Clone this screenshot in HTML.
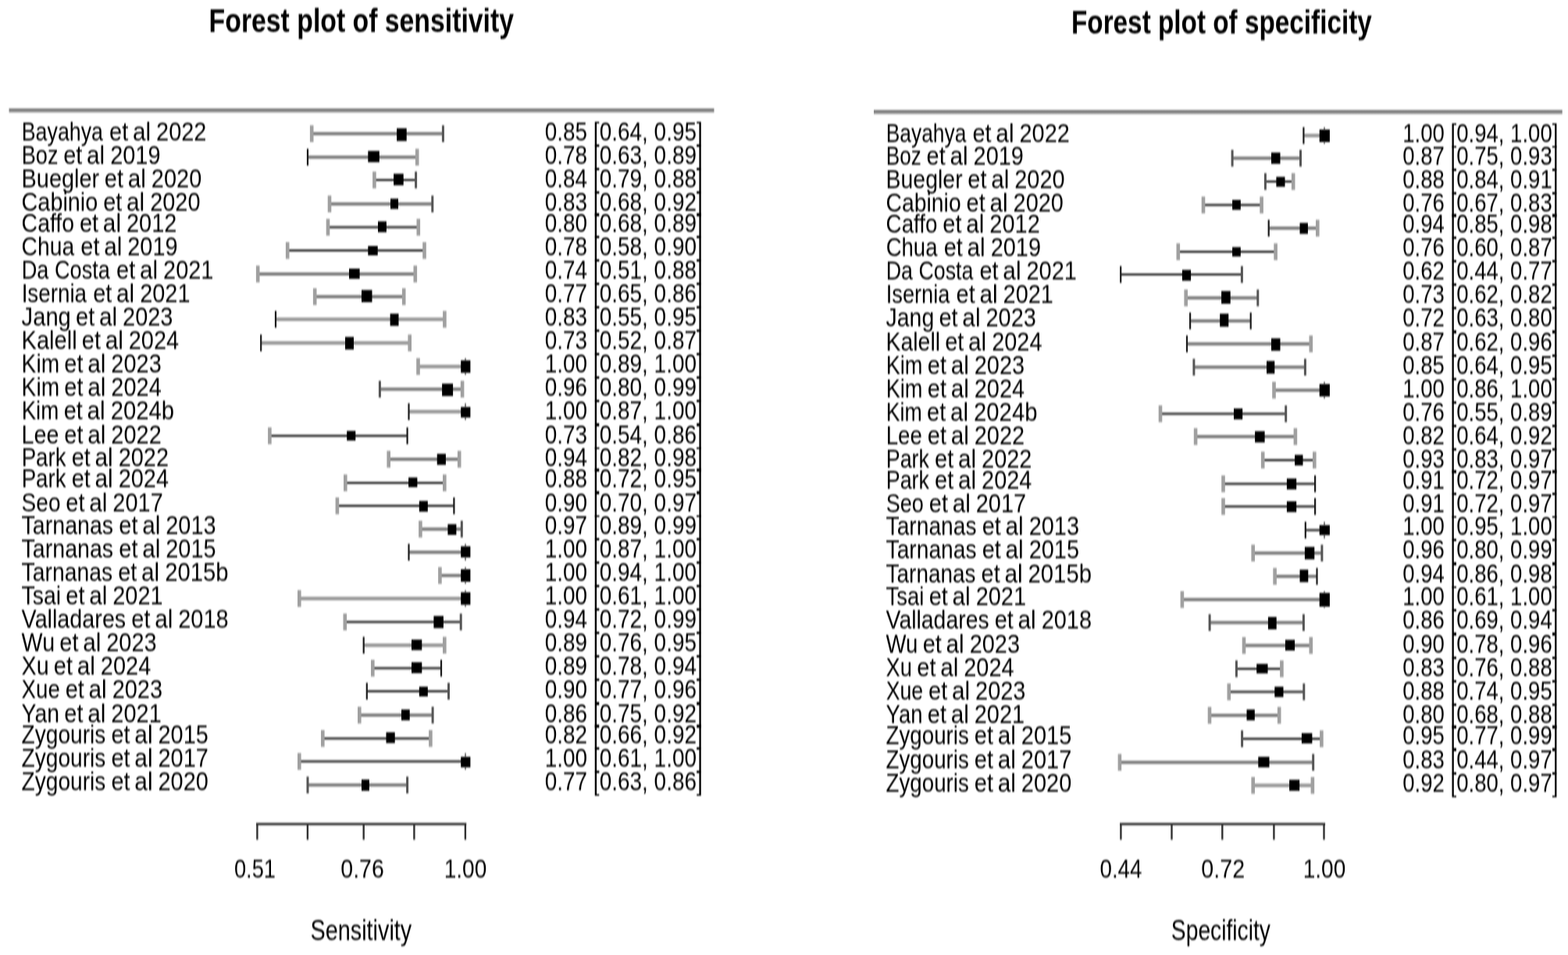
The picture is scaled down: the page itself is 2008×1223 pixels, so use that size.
<!DOCTYPE html>
<html lang="en">
<head>
<meta charset="utf-8">
<title>Forest plots of sensitivity and specificity</title>
<style>
html,body{margin:0;padding:0;background:#fff;}
body{width:2008px;height:1223px;overflow:hidden;}
svg{display:block;font-family:"Liberation Sans", Arial, Helvetica, sans-serif;}
text{fill:#000;}
</style>
</head>
<body>
<svg width="2008" height="1223" viewBox="0 0 2008 1223">
<defs>
<linearGradient id="tl" x1="0" y1="0" x2="0" y2="1"><stop offset="0" stop-color="#747474"/><stop offset="0.45" stop-color="#7c7c7c"/><stop offset="1" stop-color="#b4b4b4"/></linearGradient>
<filter id="soft" x="0" y="0" width="2008" height="1223" filterUnits="userSpaceOnUse"><feGaussianBlur stdDeviation="0.75 0.9"/></filter>
</defs>
<rect width="2008" height="1223" fill="#fff"/>
<g filter="url(#soft)">
<rect x="11.50" y="138.90" width="903.00" height="5.4" fill="url(#tl)"/>
<rect x="399.20" y="169.10" width="168.20" height="4.20" fill="#7e7e7e"/>
<rect x="396.90" y="160.45" width="4.60" height="21.50" fill="#a0a0a0"/>
<rect x="565.90" y="160.45" width="3.00" height="21.50" fill="#555"/>
<rect x="508.10" y="164.30" width="12.60" height="16.30" fill="#000"/>
<text y="180.20" font-size="34"><tspan x="27.72" textLength="104.26" lengthAdjust="spacingAndGlyphs">Bayahya</tspan> <tspan x="140.07" textLength="24.19" lengthAdjust="spacingAndGlyphs">et</tspan> <tspan x="169.93" textLength="23.21" lengthAdjust="spacingAndGlyphs">al</tspan> <tspan x="200.05" textLength="64.40" lengthAdjust="spacingAndGlyphs">2022</tspan></text>
<text transform="translate(697.65 180.20) scale(0.8229 1)" font-size="34">0.85 [0.64, 0.95]</text>
<rect x="394.00" y="199.20" width="140.20" height="4.20" fill="#7e7e7e"/>
<rect x="392.90" y="190.55" width="2.20" height="21.50" fill="#1c1c1c"/>
<rect x="531.90" y="190.55" width="4.60" height="21.50" fill="#a0a0a0"/>
<rect x="471.30" y="193.30" width="14.50" height="14.40" fill="#000"/>
<text y="209.90" font-size="34"><tspan x="27.69" textLength="46.79" lengthAdjust="spacingAndGlyphs">Boz</tspan> <tspan x="81.17" textLength="24.19" lengthAdjust="spacingAndGlyphs">et</tspan> <tspan x="111.03" textLength="23.21" lengthAdjust="spacingAndGlyphs">al</tspan> <tspan x="141.15" textLength="64.40" lengthAdjust="spacingAndGlyphs">2019</tspan></text>
<text transform="translate(697.65 209.90) scale(0.8229 1)" font-size="34">0.78 [0.63, 0.89]</text>
<rect x="479.40" y="229.20" width="53.20" height="2.60" fill="#1c1c1c"/>
<rect x="477.10" y="219.75" width="4.60" height="21.50" fill="#a0a0a0"/>
<rect x="531.10" y="219.75" width="3.00" height="21.50" fill="#555"/>
<rect x="504.10" y="222.50" width="12.60" height="14.80" fill="#000"/>
<text y="240.00" font-size="34"><tspan x="27.54" textLength="99.67" lengthAdjust="spacingAndGlyphs">Buegler</tspan> <tspan x="133.87" textLength="24.19" lengthAdjust="spacingAndGlyphs">et</tspan> <tspan x="163.73" textLength="23.21" lengthAdjust="spacingAndGlyphs">al</tspan> <tspan x="193.85" textLength="64.40" lengthAdjust="spacingAndGlyphs">2020</tspan></text>
<text transform="translate(697.65 240.00) scale(0.8229 1)" font-size="34">0.84 [0.79, 0.88]</text>
<rect x="422.00" y="259.10" width="131.80" height="4.20" fill="#7e7e7e"/>
<rect x="419.70" y="250.45" width="4.60" height="21.50" fill="#a0a0a0"/>
<rect x="552.30" y="250.45" width="3.00" height="21.50" fill="#555"/>
<rect x="500.00" y="254.40" width="10.00" height="13.20" fill="#000"/>
<text y="270.10" font-size="34"><tspan x="27.57" textLength="97.72" lengthAdjust="spacingAndGlyphs">Cabinio</tspan> <tspan x="132.17" textLength="24.19" lengthAdjust="spacingAndGlyphs">et</tspan> <tspan x="162.03" textLength="23.21" lengthAdjust="spacingAndGlyphs">al</tspan> <tspan x="192.15" textLength="64.40" lengthAdjust="spacingAndGlyphs">2020</tspan></text>
<text transform="translate(697.65 270.10) scale(0.8229 1)" font-size="34">0.83 [0.68, 0.92]</text>
<rect x="420.00" y="289.40" width="115.80" height="3.20" fill="#454545"/>
<rect x="417.70" y="280.25" width="4.60" height="21.50" fill="#a0a0a0"/>
<rect x="533.50" y="280.25" width="4.60" height="21.50" fill="#a0a0a0"/>
<rect x="484.00" y="283.50" width="10.90" height="13.90" fill="#000"/>
<text y="297.00" font-size="34"><tspan x="27.59" textLength="67.51" lengthAdjust="spacingAndGlyphs">Caffo</tspan> <tspan x="101.97" textLength="24.19" lengthAdjust="spacingAndGlyphs">et</tspan> <tspan x="131.83" textLength="23.21" lengthAdjust="spacingAndGlyphs">al</tspan> <tspan x="161.95" textLength="64.40" lengthAdjust="spacingAndGlyphs">2012</tspan></text>
<text transform="translate(697.65 297.00) scale(0.8229 1)" font-size="34">0.80 [0.68, 0.89]</text>
<rect x="368.20" y="319.50" width="175.30" height="2.60" fill="#1c1c1c"/>
<rect x="365.90" y="310.05" width="4.60" height="21.50" fill="#a0a0a0"/>
<rect x="541.20" y="310.05" width="4.60" height="21.50" fill="#a0a0a0"/>
<rect x="471.30" y="315.00" width="12.40" height="12.00" fill="#000"/>
<text y="327.00" font-size="34"><tspan x="27.60" textLength="67.55" lengthAdjust="spacingAndGlyphs">Chua</tspan> <tspan x="103.27" textLength="24.19" lengthAdjust="spacingAndGlyphs">et</tspan> <tspan x="133.13" textLength="23.21" lengthAdjust="spacingAndGlyphs">al</tspan> <tspan x="163.25" textLength="64.40" lengthAdjust="spacingAndGlyphs">2019</tspan></text>
<text transform="translate(697.65 327.00) scale(0.8229 1)" font-size="34">0.78 [0.58, 0.90]</text>
<rect x="330.20" y="348.80" width="201.60" height="4.20" fill="#7e7e7e"/>
<rect x="327.90" y="340.15" width="4.60" height="21.50" fill="#a0a0a0"/>
<rect x="529.50" y="340.15" width="4.60" height="21.50" fill="#a0a0a0"/>
<rect x="447.00" y="344.00" width="13.60" height="13.10" fill="#000"/>
<text y="357.00" font-size="34"><tspan x="27.69" textLength="113.28" lengthAdjust="spacingAndGlyphs">Da Costa</tspan> <tspan x="149.07" textLength="24.19" lengthAdjust="spacingAndGlyphs">et</tspan> <tspan x="178.93" textLength="23.21" lengthAdjust="spacingAndGlyphs">al</tspan> <tspan x="209.05" textLength="64.40" lengthAdjust="spacingAndGlyphs">2021</tspan></text>
<text transform="translate(697.65 357.00) scale(0.8229 1)" font-size="34">0.74 [0.51, 0.88]</text>
<rect x="403.20" y="377.80" width="114.00" height="4.20" fill="#7e7e7e"/>
<rect x="400.90" y="369.15" width="4.60" height="21.50" fill="#a0a0a0"/>
<rect x="514.90" y="369.15" width="4.60" height="21.50" fill="#a0a0a0"/>
<rect x="463.00" y="371.40" width="13.50" height="15.60" fill="#000"/>
<text y="387.00" font-size="34"><tspan x="27.64" textLength="83.43" lengthAdjust="spacingAndGlyphs">Isernia</tspan> <tspan x="119.17" textLength="24.19" lengthAdjust="spacingAndGlyphs">et</tspan> <tspan x="149.03" textLength="23.21" lengthAdjust="spacingAndGlyphs">al</tspan> <tspan x="179.15" textLength="64.40" lengthAdjust="spacingAndGlyphs">2021</tspan></text>
<text transform="translate(697.65 387.00) scale(0.8229 1)" font-size="34">0.77 [0.65, 0.86]</text>
<rect x="353.00" y="406.60" width="216.40" height="4.60" fill="#9a9a9a"/>
<rect x="351.90" y="398.15" width="2.20" height="21.50" fill="#1c1c1c"/>
<rect x="567.10" y="398.15" width="4.60" height="21.50" fill="#a0a0a0"/>
<rect x="499.60" y="401.70" width="10.90" height="15.60" fill="#000"/>
<text y="417.00" font-size="34"><tspan x="27.59" textLength="63.27" lengthAdjust="spacingAndGlyphs">Jang</tspan> <tspan x="97.07" textLength="24.19" lengthAdjust="spacingAndGlyphs">et</tspan> <tspan x="126.93" textLength="23.21" lengthAdjust="spacingAndGlyphs">al</tspan> <tspan x="157.05" textLength="64.40" lengthAdjust="spacingAndGlyphs">2023</tspan></text>
<text transform="translate(697.65 417.00) scale(0.8229 1)" font-size="34">0.83 [0.55, 0.95]</text>
<rect x="334.20" y="436.90" width="190.50" height="4.60" fill="#9a9a9a"/>
<rect x="333.10" y="428.45" width="2.20" height="21.50" fill="#1c1c1c"/>
<rect x="522.40" y="428.45" width="4.60" height="21.50" fill="#a0a0a0"/>
<rect x="442.00" y="431.50" width="11.00" height="16.10" fill="#000"/>
<text y="447.20" font-size="34"><tspan x="27.53" textLength="71.16" lengthAdjust="spacingAndGlyphs">Kalell</tspan> <tspan x="104.77" textLength="24.19" lengthAdjust="spacingAndGlyphs">et</tspan> <tspan x="134.63" textLength="23.21" lengthAdjust="spacingAndGlyphs">al</tspan> <tspan x="164.75" textLength="64.40" lengthAdjust="spacingAndGlyphs">2024</tspan></text>
<text transform="translate(697.65 447.20) scale(0.8229 1)" font-size="34">0.73 [0.52, 0.87]</text>
<rect x="535.50" y="467.10" width="60.50" height="4.60" fill="#9a9a9a"/>
<rect x="533.20" y="458.65" width="4.60" height="21.50" fill="#a0a0a0"/>
<rect x="595.20" y="458.65" width="1.60" height="21.50" fill="#666"/>
<rect x="590.20" y="461.50" width="12.20" height="15.90" fill="#000"/>
<text y="477.30" font-size="34"><tspan x="27.60" textLength="48.52" lengthAdjust="spacingAndGlyphs">Kim</tspan> <tspan x="82.37" textLength="24.19" lengthAdjust="spacingAndGlyphs">et</tspan> <tspan x="112.23" textLength="23.21" lengthAdjust="spacingAndGlyphs">al</tspan> <tspan x="142.35" textLength="64.40" lengthAdjust="spacingAndGlyphs">2023</tspan></text>
<text transform="translate(697.65 477.30) scale(0.8229 1)" font-size="34">1.00 [0.89, 1.00]</text>
<rect x="486.40" y="496.30" width="105.70" height="4.20" fill="#7e7e7e"/>
<rect x="484.90" y="487.65" width="3.00" height="21.50" fill="#555"/>
<rect x="589.80" y="487.65" width="4.60" height="21.50" fill="#a0a0a0"/>
<rect x="566.10" y="491.30" width="14.00" height="15.90" fill="#000"/>
<text y="507.30" font-size="34"><tspan x="27.60" textLength="48.52" lengthAdjust="spacingAndGlyphs">Kim</tspan> <tspan x="82.37" textLength="24.19" lengthAdjust="spacingAndGlyphs">et</tspan> <tspan x="112.23" textLength="23.21" lengthAdjust="spacingAndGlyphs">al</tspan> <tspan x="142.35" textLength="64.40" lengthAdjust="spacingAndGlyphs">2024</tspan></text>
<text transform="translate(697.65 507.30) scale(0.8229 1)" font-size="34">0.96 [0.80, 0.99]</text>
<rect x="523.50" y="524.90" width="72.50" height="4.60" fill="#9a9a9a"/>
<rect x="522.40" y="516.45" width="2.20" height="21.50" fill="#1c1c1c"/>
<rect x="595.20" y="516.45" width="1.60" height="21.50" fill="#666"/>
<rect x="590.20" y="521.20" width="12.20" height="13.50" fill="#000"/>
<text y="537.40" font-size="34"><tspan x="27.64" textLength="47.75" lengthAdjust="spacingAndGlyphs">Kim</tspan> <tspan x="81.67" textLength="24.19" lengthAdjust="spacingAndGlyphs">et</tspan> <tspan x="111.53" textLength="23.21" lengthAdjust="spacingAndGlyphs">al</tspan> <tspan x="141.63" textLength="81.50" lengthAdjust="spacingAndGlyphs">2024b</tspan></text>
<text transform="translate(697.65 537.40) scale(0.8229 1)" font-size="34">1.00 [0.87, 1.00]</text>
<rect x="345.40" y="556.80" width="176.20" height="2.60" fill="#1c1c1c"/>
<rect x="343.10" y="547.35" width="4.60" height="21.50" fill="#a0a0a0"/>
<rect x="520.50" y="547.35" width="2.20" height="21.50" fill="#1c1c1c"/>
<rect x="444.20" y="551.80" width="11.10" height="12.40" fill="#000"/>
<text y="567.50" font-size="34"><tspan x="27.55" textLength="48.00" lengthAdjust="spacingAndGlyphs">Lee</tspan> <tspan x="82.37" textLength="24.19" lengthAdjust="spacingAndGlyphs">et</tspan> <tspan x="112.23" textLength="23.21" lengthAdjust="spacingAndGlyphs">al</tspan> <tspan x="142.35" textLength="64.40" lengthAdjust="spacingAndGlyphs">2022</tspan></text>
<text transform="translate(697.65 567.50) scale(0.8229 1)" font-size="34">0.73 [0.54, 0.86]</text>
<rect x="497.70" y="586.00" width="90.50" height="4.20" fill="#7e7e7e"/>
<rect x="495.40" y="577.35" width="4.60" height="21.50" fill="#a0a0a0"/>
<rect x="585.90" y="577.35" width="4.60" height="21.50" fill="#a0a0a0"/>
<rect x="559.70" y="581.20" width="11.20" height="14.10" fill="#000"/>
<text y="597.30" font-size="34"><tspan x="27.64" textLength="56.99" lengthAdjust="spacingAndGlyphs">Park</tspan> <tspan x="91.67" textLength="24.19" lengthAdjust="spacingAndGlyphs">et</tspan> <tspan x="121.53" textLength="23.21" lengthAdjust="spacingAndGlyphs">al</tspan> <tspan x="151.65" textLength="64.40" lengthAdjust="spacingAndGlyphs">2022</tspan></text>
<text transform="translate(697.65 597.30) scale(0.8229 1)" font-size="34">0.94 [0.82, 0.98]</text>
<rect x="442.30" y="617.10" width="127.00" height="2.60" fill="#1c1c1c"/>
<rect x="440.00" y="607.65" width="4.60" height="21.50" fill="#a0a0a0"/>
<rect x="567.00" y="607.65" width="4.60" height="21.50" fill="#a0a0a0"/>
<rect x="523.10" y="611.50" width="11.30" height="12.40" fill="#000"/>
<text y="624.30" font-size="34"><tspan x="27.64" textLength="56.99" lengthAdjust="spacingAndGlyphs">Park</tspan> <tspan x="91.67" textLength="24.19" lengthAdjust="spacingAndGlyphs">et</tspan> <tspan x="121.53" textLength="23.21" lengthAdjust="spacingAndGlyphs">al</tspan> <tspan x="151.65" textLength="64.40" lengthAdjust="spacingAndGlyphs">2024</tspan></text>
<text transform="translate(697.65 624.30) scale(0.8229 1)" font-size="34">0.88 [0.72, 0.95]</text>
<rect x="431.90" y="646.50" width="149.50" height="2.60" fill="#1c1c1c"/>
<rect x="429.60" y="637.05" width="4.60" height="21.50" fill="#a0a0a0"/>
<rect x="580.30" y="637.05" width="2.20" height="21.50" fill="#1c1c1c"/>
<rect x="536.80" y="641.50" width="11.00" height="13.80" fill="#000"/>
<text y="654.50" font-size="34"><tspan x="27.61" textLength="49.86" lengthAdjust="spacingAndGlyphs">Seo</tspan> <tspan x="84.37" textLength="24.19" lengthAdjust="spacingAndGlyphs">et</tspan> <tspan x="114.23" textLength="23.21" lengthAdjust="spacingAndGlyphs">al</tspan> <tspan x="144.35" textLength="64.40" lengthAdjust="spacingAndGlyphs">2017</tspan></text>
<text transform="translate(697.65 654.50) scale(0.8229 1)" font-size="34">0.90 [0.70, 0.97]</text>
<rect x="538.40" y="675.50" width="52.90" height="4.20" fill="#7e7e7e"/>
<rect x="536.10" y="666.85" width="4.60" height="21.50" fill="#a0a0a0"/>
<rect x="589.80" y="666.85" width="3.00" height="21.50" fill="#555"/>
<rect x="573.40" y="671.30" width="11.00" height="13.70" fill="#000"/>
<text y="684.00" font-size="34"><tspan x="27.59" textLength="117.58" lengthAdjust="spacingAndGlyphs">Tarnanas</tspan> <tspan x="152.27" textLength="24.19" lengthAdjust="spacingAndGlyphs">et</tspan> <tspan x="182.13" textLength="23.21" lengthAdjust="spacingAndGlyphs">al</tspan> <tspan x="212.25" textLength="64.40" lengthAdjust="spacingAndGlyphs">2013</tspan></text>
<text transform="translate(697.65 684.00) scale(0.8229 1)" font-size="34">0.97 [0.89, 0.99]</text>
<rect x="523.50" y="705.10" width="72.50" height="4.20" fill="#7e7e7e"/>
<rect x="522.40" y="696.45" width="2.20" height="21.50" fill="#1c1c1c"/>
<rect x="595.20" y="696.45" width="1.60" height="21.50" fill="#666"/>
<rect x="590.20" y="699.60" width="12.20" height="14.30" fill="#000"/>
<text y="714.10" font-size="34"><tspan x="27.59" textLength="117.58" lengthAdjust="spacingAndGlyphs">Tarnanas</tspan> <tspan x="152.27" textLength="24.19" lengthAdjust="spacingAndGlyphs">et</tspan> <tspan x="182.13" textLength="23.21" lengthAdjust="spacingAndGlyphs">al</tspan> <tspan x="212.25" textLength="64.40" lengthAdjust="spacingAndGlyphs">2015</tspan></text>
<text transform="translate(697.65 714.10) scale(0.8229 1)" font-size="34">1.00 [0.87, 1.00]</text>
<rect x="563.40" y="734.90" width="32.60" height="4.20" fill="#7e7e7e"/>
<rect x="561.10" y="726.25" width="4.60" height="21.50" fill="#a0a0a0"/>
<rect x="595.20" y="726.25" width="1.60" height="21.50" fill="#666"/>
<rect x="590.20" y="729.00" width="12.20" height="16.00" fill="#000"/>
<text y="744.20" font-size="34"><tspan x="27.60" textLength="116.46" lengthAdjust="spacingAndGlyphs">Tarnanas</tspan> <tspan x="151.17" textLength="24.19" lengthAdjust="spacingAndGlyphs">et</tspan> <tspan x="181.03" textLength="23.21" lengthAdjust="spacingAndGlyphs">al</tspan> <tspan x="211.13" textLength="81.50" lengthAdjust="spacingAndGlyphs">2015b</tspan></text>
<text transform="translate(697.65 744.20) scale(0.8229 1)" font-size="34">1.00 [0.94, 1.00]</text>
<rect x="383.30" y="764.20" width="212.70" height="4.60" fill="#9a9a9a"/>
<rect x="381.00" y="755.75" width="4.60" height="21.50" fill="#a0a0a0"/>
<rect x="595.20" y="755.75" width="1.60" height="21.50" fill="#666"/>
<rect x="590.20" y="758.50" width="12.20" height="16.00" fill="#000"/>
<text y="774.10" font-size="34"><tspan x="27.60" textLength="50.55" lengthAdjust="spacingAndGlyphs">Tsai</tspan> <tspan x="84.27" textLength="24.19" lengthAdjust="spacingAndGlyphs">et</tspan> <tspan x="114.13" textLength="23.21" lengthAdjust="spacingAndGlyphs">al</tspan> <tspan x="144.25" textLength="64.40" lengthAdjust="spacingAndGlyphs">2021</tspan></text>
<text transform="translate(697.65 774.10) scale(0.8229 1)" font-size="34">1.00 [0.61, 1.00]</text>
<rect x="441.80" y="794.90" width="148.40" height="3.20" fill="#454545"/>
<rect x="439.50" y="785.75" width="4.60" height="21.50" fill="#a0a0a0"/>
<rect x="588.70" y="785.75" width="3.00" height="21.50" fill="#555"/>
<rect x="555.40" y="788.80" width="12.50" height="15.60" fill="#000"/>
<text y="803.80" font-size="34"><tspan x="27.60" textLength="133.64" lengthAdjust="spacingAndGlyphs">Valladares</tspan> <tspan x="168.27" textLength="24.19" lengthAdjust="spacingAndGlyphs">et</tspan> <tspan x="198.13" textLength="23.21" lengthAdjust="spacingAndGlyphs">al</tspan> <tspan x="228.25" textLength="64.40" lengthAdjust="spacingAndGlyphs">2018</tspan></text>
<text transform="translate(697.65 803.80) scale(0.8229 1)" font-size="34">0.94 [0.72, 0.99]</text>
<rect x="465.70" y="824.00" width="103.60" height="4.60" fill="#9a9a9a"/>
<rect x="464.60" y="815.55" width="2.20" height="21.50" fill="#1c1c1c"/>
<rect x="567.00" y="815.55" width="4.60" height="21.50" fill="#a0a0a0"/>
<rect x="527.00" y="819.10" width="13.30" height="13.50" fill="#000"/>
<text y="834.20" font-size="34"><tspan x="27.60" textLength="42.52" lengthAdjust="spacingAndGlyphs">Wu</tspan> <tspan x="76.27" textLength="24.19" lengthAdjust="spacingAndGlyphs">et</tspan> <tspan x="106.13" textLength="23.21" lengthAdjust="spacingAndGlyphs">al</tspan> <tspan x="136.25" textLength="64.40" lengthAdjust="spacingAndGlyphs">2023</tspan></text>
<text transform="translate(697.65 834.20) scale(0.8229 1)" font-size="34">0.89 [0.76, 0.95]</text>
<rect x="477.30" y="854.10" width="87.70" height="3.20" fill="#454545"/>
<rect x="475.00" y="844.95" width="4.60" height="21.50" fill="#a0a0a0"/>
<rect x="563.90" y="844.95" width="2.20" height="21.50" fill="#1c1c1c"/>
<rect x="527.00" y="848.10" width="13.30" height="14.00" fill="#000"/>
<text y="864.20" font-size="34"><tspan x="27.59" textLength="35.09" lengthAdjust="spacingAndGlyphs">Xu</tspan> <tspan x="68.87" textLength="24.19" lengthAdjust="spacingAndGlyphs">et</tspan> <tspan x="98.73" textLength="23.21" lengthAdjust="spacingAndGlyphs">al</tspan> <tspan x="128.85" textLength="64.40" lengthAdjust="spacingAndGlyphs">2024</tspan></text>
<text transform="translate(697.65 864.20) scale(0.8229 1)" font-size="34">0.89 [0.78, 0.94]</text>
<rect x="469.80" y="883.90" width="104.70" height="2.60" fill="#1c1c1c"/>
<rect x="468.70" y="874.45" width="2.20" height="21.50" fill="#1c1c1c"/>
<rect x="573.00" y="874.45" width="3.00" height="21.50" fill="#555"/>
<rect x="536.80" y="879.40" width="11.00" height="12.50" fill="#000"/>
<text y="894.30" font-size="34"><tspan x="27.61" textLength="49.21" lengthAdjust="spacingAndGlyphs">Xue</tspan> <tspan x="83.67" textLength="24.19" lengthAdjust="spacingAndGlyphs">et</tspan> <tspan x="113.53" textLength="23.21" lengthAdjust="spacingAndGlyphs">al</tspan> <tspan x="143.65" textLength="64.40" lengthAdjust="spacingAndGlyphs">2023</tspan></text>
<text transform="translate(697.65 894.30) scale(0.8229 1)" font-size="34">0.90 [0.77, 0.96]</text>
<rect x="460.30" y="913.70" width="93.80" height="4.20" fill="#7e7e7e"/>
<rect x="458.00" y="905.05" width="4.60" height="21.50" fill="#a0a0a0"/>
<rect x="552.60" y="905.05" width="3.00" height="21.50" fill="#555"/>
<rect x="514.00" y="908.60" width="10.70" height="13.90" fill="#000"/>
<text y="924.60" font-size="34"><tspan x="27.60" textLength="48.49" lengthAdjust="spacingAndGlyphs">Yan</tspan> <tspan x="82.37" textLength="24.19" lengthAdjust="spacingAndGlyphs">et</tspan> <tspan x="112.23" textLength="23.21" lengthAdjust="spacingAndGlyphs">al</tspan> <tspan x="142.35" textLength="64.40" lengthAdjust="spacingAndGlyphs">2021</tspan></text>
<text transform="translate(697.65 924.60) scale(0.8229 1)" font-size="34">0.86 [0.75, 0.92]</text>
<rect x="413.30" y="944.10" width="138.10" height="3.20" fill="#454545"/>
<rect x="411.00" y="934.95" width="4.60" height="21.50" fill="#a0a0a0"/>
<rect x="549.10" y="934.95" width="4.60" height="21.50" fill="#a0a0a0"/>
<rect x="494.50" y="937.80" width="11.20" height="13.80" fill="#000"/>
<text y="951.60" font-size="34"><tspan x="27.60" textLength="107.77" lengthAdjust="spacingAndGlyphs">Zygouris</tspan> <tspan x="142.47" textLength="24.19" lengthAdjust="spacingAndGlyphs">et</tspan> <tspan x="172.33" textLength="23.21" lengthAdjust="spacingAndGlyphs">al</tspan> <tspan x="202.45" textLength="64.40" lengthAdjust="spacingAndGlyphs">2015</tspan></text>
<text transform="translate(697.65 951.60) scale(0.8229 1)" font-size="34">0.82 [0.66, 0.92]</text>
<rect x="383.30" y="973.50" width="212.70" height="3.20" fill="#454545"/>
<rect x="381.00" y="964.35" width="4.60" height="21.50" fill="#a0a0a0"/>
<rect x="595.20" y="964.35" width="1.60" height="21.50" fill="#666"/>
<rect x="590.20" y="969.20" width="12.20" height="13.50" fill="#000"/>
<text y="982.30" font-size="34"><tspan x="27.60" textLength="107.77" lengthAdjust="spacingAndGlyphs">Zygouris</tspan> <tspan x="142.47" textLength="24.19" lengthAdjust="spacingAndGlyphs">et</tspan> <tspan x="172.33" textLength="23.21" lengthAdjust="spacingAndGlyphs">al</tspan> <tspan x="202.45" textLength="64.40" lengthAdjust="spacingAndGlyphs">2017</tspan></text>
<text transform="translate(697.65 982.30) scale(0.8229 1)" font-size="34">1.00 [0.61, 1.00]</text>
<rect x="394.00" y="1003.20" width="127.60" height="4.20" fill="#7e7e7e"/>
<rect x="392.50" y="994.55" width="3.00" height="21.50" fill="#555"/>
<rect x="520.10" y="994.55" width="3.00" height="21.50" fill="#555"/>
<rect x="463.00" y="998.30" width="9.90" height="14.40" fill="#000"/>
<text y="1012.20" font-size="34"><tspan x="27.60" textLength="107.77" lengthAdjust="spacingAndGlyphs">Zygouris</tspan> <tspan x="142.47" textLength="24.19" lengthAdjust="spacingAndGlyphs">et</tspan> <tspan x="172.33" textLength="23.21" lengthAdjust="spacingAndGlyphs">al</tspan> <tspan x="202.45" textLength="64.40" lengthAdjust="spacingAndGlyphs">2020</tspan></text>
<text transform="translate(697.65 1012.20) scale(0.8229 1)" font-size="34">0.77 [0.63, 0.86]</text>
<rect x="328.00" y="1053.90" width="269.20" height="2.80" fill="#222"/>
<rect x="328.20" y="1053.90" width="2.40" height="21.50" fill="#333"/>
<rect x="392.70" y="1053.90" width="2.40" height="21.50" fill="#333"/>
<rect x="464.50" y="1053.90" width="2.40" height="21.50" fill="#333"/>
<rect x="529.20" y="1053.90" width="2.40" height="21.50" fill="#333"/>
<rect x="594.70" y="1053.90" width="2.40" height="21.50" fill="#333"/>
<text transform="translate(299.88 1123.60) scale(0.8033 1)" font-size="34">0.51</text>
<text transform="translate(436.33 1123.60) scale(0.8390 1)" font-size="34">0.76</text>
<text transform="translate(568.70 1123.60) scale(0.8250 1)" font-size="34">1.00</text>
<text transform="translate(267.62 41.30) scale(0.7859 1)" font-size="43" font-weight="bold">Forest plot of sensitivity</text>
<text transform="translate(397.50 1203.60) scale(0.7902 1)" font-size="36.5" fill="#2a2a2a">Sensitivity</text>
<rect x="1119.00" y="140.90" width="881.70" height="5.4" fill="url(#tl)"/>
<rect x="1669.40" y="171.30" width="26.60" height="4.60" fill="#9a9a9a"/>
<rect x="1668.30" y="162.85" width="2.20" height="21.50" fill="#1c1c1c"/>
<rect x="1695.20" y="162.85" width="1.60" height="21.50" fill="#666"/>
<rect x="1689.70" y="165.90" width="13.20" height="16.00" fill="#000"/>
<text y="181.50" font-size="34"><tspan x="1134.75" textLength="102.63" lengthAdjust="spacingAndGlyphs">Bayahya</tspan> <tspan x="1245.47" textLength="24.19" lengthAdjust="spacingAndGlyphs">et</tspan> <tspan x="1275.33" textLength="23.21" lengthAdjust="spacingAndGlyphs">al</tspan> <tspan x="1305.45" textLength="64.40" lengthAdjust="spacingAndGlyphs">2022</tspan></text>
<text transform="translate(1796.17 181.50) scale(0.8113 1)" font-size="34">1.00 [0.94, 1.00]</text>
<rect x="1578.10" y="200.50" width="87.40" height="4.20" fill="#7e7e7e"/>
<rect x="1576.60" y="191.85" width="3.00" height="21.50" fill="#555"/>
<rect x="1664.00" y="191.85" width="3.00" height="21.50" fill="#555"/>
<rect x="1628.00" y="195.40" width="11.50" height="14.40" fill="#000"/>
<text y="211.20" font-size="34"><tspan x="1134.77" textLength="45.05" lengthAdjust="spacingAndGlyphs">Boz</tspan> <tspan x="1186.57" textLength="24.19" lengthAdjust="spacingAndGlyphs">et</tspan> <tspan x="1216.43" textLength="23.21" lengthAdjust="spacingAndGlyphs">al</tspan> <tspan x="1246.55" textLength="64.40" lengthAdjust="spacingAndGlyphs">2019</tspan></text>
<text transform="translate(1796.17 211.20) scale(0.8113 1)" font-size="34">0.87 [0.75, 0.93]</text>
<rect x="1620.40" y="231.20" width="35.80" height="2.60" fill="#1c1c1c"/>
<rect x="1618.90" y="221.75" width="3.00" height="21.50" fill="#555"/>
<rect x="1653.90" y="221.75" width="4.60" height="21.50" fill="#a0a0a0"/>
<rect x="1634.40" y="226.50" width="11.10" height="12.70" fill="#000"/>
<text y="241.30" font-size="34"><tspan x="1134.58" textLength="98.03" lengthAdjust="spacingAndGlyphs">Buegler</tspan> <tspan x="1239.27" textLength="24.19" lengthAdjust="spacingAndGlyphs">et</tspan> <tspan x="1269.13" textLength="23.21" lengthAdjust="spacingAndGlyphs">al</tspan> <tspan x="1299.25" textLength="64.40" lengthAdjust="spacingAndGlyphs">2020</tspan></text>
<text transform="translate(1796.17 241.30) scale(0.8113 1)" font-size="34">0.88 [0.84, 0.91]</text>
<rect x="1541.00" y="260.90" width="74.60" height="3.20" fill="#454545"/>
<rect x="1538.70" y="251.75" width="4.60" height="21.50" fill="#a0a0a0"/>
<rect x="1613.30" y="251.75" width="4.60" height="21.50" fill="#a0a0a0"/>
<rect x="1578.10" y="256.00" width="10.70" height="12.70" fill="#000"/>
<text y="271.40" font-size="34"><tspan x="1134.59" textLength="96.07" lengthAdjust="spacingAndGlyphs">Cabinio</tspan> <tspan x="1237.57" textLength="24.19" lengthAdjust="spacingAndGlyphs">et</tspan> <tspan x="1267.43" textLength="23.21" lengthAdjust="spacingAndGlyphs">al</tspan> <tspan x="1297.55" textLength="64.40" lengthAdjust="spacingAndGlyphs">2020</tspan></text>
<text transform="translate(1796.17 271.40) scale(0.8113 1)" font-size="34">0.76 [0.67, 0.83]</text>
<rect x="1624.70" y="290.10" width="62.60" height="4.20" fill="#7e7e7e"/>
<rect x="1623.60" y="281.45" width="2.20" height="21.50" fill="#1c1c1c"/>
<rect x="1685.00" y="281.45" width="4.60" height="21.50" fill="#a0a0a0"/>
<rect x="1664.50" y="285.50" width="10.40" height="14.00" fill="#000"/>
<text y="298.30" font-size="34"><tspan x="1134.62" textLength="65.85" lengthAdjust="spacingAndGlyphs">Caffo</tspan> <tspan x="1207.37" textLength="24.19" lengthAdjust="spacingAndGlyphs">et</tspan> <tspan x="1237.23" textLength="23.21" lengthAdjust="spacingAndGlyphs">al</tspan> <tspan x="1267.35" textLength="64.40" lengthAdjust="spacingAndGlyphs">2012</tspan></text>
<text transform="translate(1796.17 298.30) scale(0.8113 1)" font-size="34">0.94 [0.85, 0.98]</text>
<rect x="1508.80" y="321.10" width="124.80" height="2.60" fill="#1c1c1c"/>
<rect x="1506.50" y="311.65" width="4.60" height="21.50" fill="#a0a0a0"/>
<rect x="1631.30" y="311.65" width="4.60" height="21.50" fill="#a0a0a0"/>
<rect x="1578.10" y="316.50" width="10.70" height="12.00" fill="#000"/>
<text y="328.30" font-size="34"><tspan x="1134.63" textLength="65.92" lengthAdjust="spacingAndGlyphs">Chua</tspan> <tspan x="1208.67" textLength="24.19" lengthAdjust="spacingAndGlyphs">et</tspan> <tspan x="1238.53" textLength="23.21" lengthAdjust="spacingAndGlyphs">al</tspan> <tspan x="1268.65" textLength="64.40" lengthAdjust="spacingAndGlyphs">2019</tspan></text>
<text transform="translate(1796.17 328.30) scale(0.8113 1)" font-size="34">0.76 [0.60, 0.87]</text>
<rect x="1435.20" y="350.20" width="155.20" height="2.60" fill="#1c1c1c"/>
<rect x="1434.10" y="340.75" width="2.20" height="21.50" fill="#1c1c1c"/>
<rect x="1588.90" y="340.75" width="3.00" height="21.50" fill="#555"/>
<rect x="1513.90" y="345.60" width="11.20" height="13.90" fill="#000"/>
<text y="358.30" font-size="34"><tspan x="1134.72" textLength="111.64" lengthAdjust="spacingAndGlyphs">Da Costa</tspan> <tspan x="1254.47" textLength="24.19" lengthAdjust="spacingAndGlyphs">et</tspan> <tspan x="1284.33" textLength="23.21" lengthAdjust="spacingAndGlyphs">al</tspan> <tspan x="1314.45" textLength="64.40" lengthAdjust="spacingAndGlyphs">2021</tspan></text>
<text transform="translate(1796.17 358.30) scale(0.8113 1)" font-size="34">0.62 [0.44, 0.77]</text>
<rect x="1518.70" y="379.40" width="92.10" height="4.20" fill="#7e7e7e"/>
<rect x="1516.40" y="370.75" width="4.60" height="21.50" fill="#a0a0a0"/>
<rect x="1609.30" y="370.75" width="3.00" height="21.50" fill="#555"/>
<rect x="1564.10" y="372.70" width="11.60" height="16.30" fill="#000"/>
<text y="388.30" font-size="34"><tspan x="1134.69" textLength="81.78" lengthAdjust="spacingAndGlyphs">Isernia</tspan> <tspan x="1224.57" textLength="24.19" lengthAdjust="spacingAndGlyphs">et</tspan> <tspan x="1254.43" textLength="23.21" lengthAdjust="spacingAndGlyphs">al</tspan> <tspan x="1284.55" textLength="64.40" lengthAdjust="spacingAndGlyphs">2021</tspan></text>
<text transform="translate(1796.17 388.30) scale(0.8113 1)" font-size="34">0.73 [0.62, 0.82]</text>
<rect x="1524.10" y="408.90" width="77.60" height="4.20" fill="#7e7e7e"/>
<rect x="1523.00" y="400.25" width="2.20" height="21.50" fill="#1c1c1c"/>
<rect x="1600.60" y="400.25" width="2.20" height="21.50" fill="#1c1c1c"/>
<rect x="1562.20" y="401.70" width="11.10" height="16.70" fill="#000"/>
<text y="418.30" font-size="34"><tspan x="1134.60" textLength="61.61" lengthAdjust="spacingAndGlyphs">Jang</tspan> <tspan x="1202.47" textLength="24.19" lengthAdjust="spacingAndGlyphs">et</tspan> <tspan x="1232.33" textLength="23.21" lengthAdjust="spacingAndGlyphs">al</tspan> <tspan x="1262.45" textLength="64.40" lengthAdjust="spacingAndGlyphs">2023</tspan></text>
<text transform="translate(1796.17 418.30) scale(0.8113 1)" font-size="34">0.72 [0.63, 0.80]</text>
<rect x="1520.00" y="438.30" width="158.80" height="4.20" fill="#7e7e7e"/>
<rect x="1518.90" y="429.65" width="2.20" height="21.50" fill="#1c1c1c"/>
<rect x="1676.50" y="429.65" width="4.60" height="21.50" fill="#a0a0a0"/>
<rect x="1628.00" y="433.30" width="11.50" height="15.90" fill="#000"/>
<text y="448.50" font-size="34"><tspan x="1134.59" textLength="69.46" lengthAdjust="spacingAndGlyphs">Kalell</tspan> <tspan x="1210.17" textLength="24.19" lengthAdjust="spacingAndGlyphs">et</tspan> <tspan x="1240.03" textLength="23.21" lengthAdjust="spacingAndGlyphs">al</tspan> <tspan x="1270.15" textLength="64.40" lengthAdjust="spacingAndGlyphs">2024</tspan></text>
<text transform="translate(1796.17 448.50) scale(0.8113 1)" font-size="34">0.87 [0.62, 0.96]</text>
<rect x="1528.90" y="468.10" width="142.50" height="4.20" fill="#7e7e7e"/>
<rect x="1527.40" y="459.45" width="3.00" height="21.50" fill="#555"/>
<rect x="1669.90" y="459.45" width="3.00" height="21.50" fill="#555"/>
<rect x="1622.00" y="462.30" width="10.30" height="16.20" fill="#000"/>
<text y="478.60" font-size="34"><tspan x="1134.69" textLength="46.77" lengthAdjust="spacingAndGlyphs">Kim</tspan> <tspan x="1187.77" textLength="24.19" lengthAdjust="spacingAndGlyphs">et</tspan> <tspan x="1217.63" textLength="23.21" lengthAdjust="spacingAndGlyphs">al</tspan> <tspan x="1247.75" textLength="64.40" lengthAdjust="spacingAndGlyphs">2023</tspan></text>
<text transform="translate(1796.17 478.60) scale(0.8113 1)" font-size="34">0.85 [0.64, 0.95]</text>
<rect x="1631.50" y="497.60" width="64.50" height="4.20" fill="#7e7e7e"/>
<rect x="1629.20" y="488.95" width="4.60" height="21.50" fill="#a0a0a0"/>
<rect x="1695.20" y="488.95" width="1.60" height="21.50" fill="#666"/>
<rect x="1689.70" y="491.80" width="13.20" height="15.90" fill="#000"/>
<text y="508.60" font-size="34"><tspan x="1134.69" textLength="46.77" lengthAdjust="spacingAndGlyphs">Kim</tspan> <tspan x="1187.77" textLength="24.19" lengthAdjust="spacingAndGlyphs">et</tspan> <tspan x="1217.63" textLength="23.21" lengthAdjust="spacingAndGlyphs">al</tspan> <tspan x="1247.75" textLength="64.40" lengthAdjust="spacingAndGlyphs">2024</tspan></text>
<text transform="translate(1796.17 508.60) scale(0.8113 1)" font-size="34">1.00 [0.86, 1.00]</text>
<rect x="1486.00" y="528.30" width="160.70" height="3.20" fill="#454545"/>
<rect x="1483.70" y="519.15" width="4.60" height="21.50" fill="#a0a0a0"/>
<rect x="1645.20" y="519.15" width="3.00" height="21.50" fill="#555"/>
<rect x="1580.00" y="523.10" width="11.20" height="14.00" fill="#000"/>
<text y="538.70" font-size="34"><tspan x="1134.72" textLength="46.00" lengthAdjust="spacingAndGlyphs">Kim</tspan> <tspan x="1187.07" textLength="24.19" lengthAdjust="spacingAndGlyphs">et</tspan> <tspan x="1216.93" textLength="23.21" lengthAdjust="spacingAndGlyphs">al</tspan> <tspan x="1247.03" textLength="81.50" lengthAdjust="spacingAndGlyphs">2024b</tspan></text>
<text transform="translate(1796.17 538.70) scale(0.8113 1)" font-size="34">0.76 [0.55, 0.89]</text>
<rect x="1531.10" y="557.00" width="127.80" height="4.20" fill="#7e7e7e"/>
<rect x="1528.80" y="548.35" width="4.60" height="21.50" fill="#a0a0a0"/>
<rect x="1656.60" y="548.35" width="4.60" height="21.50" fill="#a0a0a0"/>
<rect x="1607.10" y="552.20" width="12.50" height="14.40" fill="#000"/>
<text y="568.80" font-size="34"><tspan x="1134.64" textLength="46.27" lengthAdjust="spacingAndGlyphs">Lee</tspan> <tspan x="1187.77" textLength="24.19" lengthAdjust="spacingAndGlyphs">et</tspan> <tspan x="1217.63" textLength="23.21" lengthAdjust="spacingAndGlyphs">al</tspan> <tspan x="1247.75" textLength="64.40" lengthAdjust="spacingAndGlyphs">2022</tspan></text>
<text transform="translate(1796.17 568.80) scale(0.8113 1)" font-size="34">0.82 [0.64, 0.92]</text>
<rect x="1617.20" y="587.90" width="66.10" height="2.60" fill="#1c1c1c"/>
<rect x="1614.90" y="578.45" width="4.60" height="21.50" fill="#a0a0a0"/>
<rect x="1681.00" y="578.45" width="4.60" height="21.50" fill="#a0a0a0"/>
<rect x="1658.10" y="582.50" width="10.40" height="13.60" fill="#000"/>
<text y="598.60" font-size="34"><tspan x="1134.71" textLength="55.32" lengthAdjust="spacingAndGlyphs">Park</tspan> <tspan x="1197.07" textLength="24.19" lengthAdjust="spacingAndGlyphs">et</tspan> <tspan x="1226.93" textLength="23.21" lengthAdjust="spacingAndGlyphs">al</tspan> <tspan x="1257.05" textLength="64.40" lengthAdjust="spacingAndGlyphs">2022</tspan></text>
<text transform="translate(1796.17 598.60) scale(0.8113 1)" font-size="34">0.93 [0.83, 0.97]</text>
<rect x="1566.50" y="618.00" width="117.60" height="3.20" fill="#454545"/>
<rect x="1564.20" y="608.85" width="4.60" height="21.50" fill="#a0a0a0"/>
<rect x="1683.00" y="608.85" width="2.20" height="21.50" fill="#1c1c1c"/>
<rect x="1647.90" y="612.80" width="12.30" height="14.00" fill="#000"/>
<text y="625.60" font-size="34"><tspan x="1134.71" textLength="55.32" lengthAdjust="spacingAndGlyphs">Park</tspan> <tspan x="1197.07" textLength="24.19" lengthAdjust="spacingAndGlyphs">et</tspan> <tspan x="1226.93" textLength="23.21" lengthAdjust="spacingAndGlyphs">al</tspan> <tspan x="1257.05" textLength="64.40" lengthAdjust="spacingAndGlyphs">2024</tspan></text>
<text transform="translate(1796.17 625.60) scale(0.8113 1)" font-size="34">0.91 [0.72, 0.97]</text>
<rect x="1566.50" y="647.00" width="117.60" height="3.20" fill="#454545"/>
<rect x="1564.20" y="637.85" width="4.60" height="21.50" fill="#a0a0a0"/>
<rect x="1683.00" y="637.85" width="2.20" height="21.50" fill="#1c1c1c"/>
<rect x="1647.90" y="642.00" width="12.30" height="13.80" fill="#000"/>
<text y="655.80" font-size="34"><tspan x="1134.65" textLength="48.18" lengthAdjust="spacingAndGlyphs">Seo</tspan> <tspan x="1189.77" textLength="24.19" lengthAdjust="spacingAndGlyphs">et</tspan> <tspan x="1219.63" textLength="23.21" lengthAdjust="spacingAndGlyphs">al</tspan> <tspan x="1249.75" textLength="64.40" lengthAdjust="spacingAndGlyphs">2017</tspan></text>
<text transform="translate(1796.17 655.80) scale(0.8113 1)" font-size="34">0.91 [0.72, 0.97]</text>
<rect x="1671.80" y="677.30" width="24.20" height="3.20" fill="#454545"/>
<rect x="1670.70" y="668.15" width="2.20" height="21.50" fill="#1c1c1c"/>
<rect x="1695.20" y="668.15" width="1.60" height="21.50" fill="#666"/>
<rect x="1689.70" y="672.50" width="13.20" height="12.80" fill="#000"/>
<text y="685.30" font-size="34"><tspan x="1134.60" textLength="115.95" lengthAdjust="spacingAndGlyphs">Tarnanas</tspan> <tspan x="1257.67" textLength="24.19" lengthAdjust="spacingAndGlyphs">et</tspan> <tspan x="1287.53" textLength="23.21" lengthAdjust="spacingAndGlyphs">al</tspan> <tspan x="1317.65" textLength="64.40" lengthAdjust="spacingAndGlyphs">2013</tspan></text>
<text transform="translate(1796.17 685.30) scale(0.8113 1)" font-size="34">1.00 [0.95, 1.00]</text>
<rect x="1604.70" y="706.20" width="88.20" height="4.20" fill="#7e7e7e"/>
<rect x="1602.40" y="697.55" width="4.60" height="21.50" fill="#a0a0a0"/>
<rect x="1691.40" y="697.55" width="3.00" height="21.50" fill="#555"/>
<rect x="1670.90" y="700.40" width="12.40" height="15.90" fill="#000"/>
<text y="715.40" font-size="34"><tspan x="1134.60" textLength="115.95" lengthAdjust="spacingAndGlyphs">Tarnanas</tspan> <tspan x="1257.67" textLength="24.19" lengthAdjust="spacingAndGlyphs">et</tspan> <tspan x="1287.53" textLength="23.21" lengthAdjust="spacingAndGlyphs">al</tspan> <tspan x="1317.65" textLength="64.40" lengthAdjust="spacingAndGlyphs">2015</tspan></text>
<text transform="translate(1796.17 715.40) scale(0.8113 1)" font-size="34">0.96 [0.80, 0.99]</text>
<rect x="1632.60" y="736.00" width="53.90" height="4.20" fill="#7e7e7e"/>
<rect x="1630.30" y="727.35" width="4.60" height="21.50" fill="#a0a0a0"/>
<rect x="1685.40" y="727.35" width="2.20" height="21.50" fill="#1c1c1c"/>
<rect x="1664.50" y="729.50" width="10.80" height="16.00" fill="#000"/>
<text y="745.50" font-size="34"><tspan x="1134.61" textLength="114.84" lengthAdjust="spacingAndGlyphs">Tarnanas</tspan> <tspan x="1256.57" textLength="24.19" lengthAdjust="spacingAndGlyphs">et</tspan> <tspan x="1286.43" textLength="23.21" lengthAdjust="spacingAndGlyphs">al</tspan> <tspan x="1316.53" textLength="81.50" lengthAdjust="spacingAndGlyphs">2015b</tspan></text>
<text transform="translate(1796.17 745.50) scale(0.8113 1)" font-size="34">0.94 [0.86, 0.98]</text>
<rect x="1513.90" y="765.70" width="182.10" height="4.20" fill="#7e7e7e"/>
<rect x="1511.60" y="757.05" width="4.60" height="21.50" fill="#a0a0a0"/>
<rect x="1695.20" y="757.05" width="1.60" height="21.50" fill="#666"/>
<rect x="1689.70" y="759.30" width="13.20" height="17.60" fill="#000"/>
<text y="775.40" font-size="34"><tspan x="1134.62" textLength="48.86" lengthAdjust="spacingAndGlyphs">Tsai</tspan> <tspan x="1189.67" textLength="24.19" lengthAdjust="spacingAndGlyphs">et</tspan> <tspan x="1219.53" textLength="23.21" lengthAdjust="spacingAndGlyphs">al</tspan> <tspan x="1249.65" textLength="64.40" lengthAdjust="spacingAndGlyphs">2021</tspan></text>
<text transform="translate(1796.17 775.40) scale(0.8113 1)" font-size="34">1.00 [0.61, 1.00]</text>
<rect x="1549.10" y="795.20" width="120.30" height="4.20" fill="#7e7e7e"/>
<rect x="1547.60" y="786.55" width="3.00" height="21.50" fill="#555"/>
<rect x="1667.90" y="786.55" width="3.00" height="21.50" fill="#555"/>
<rect x="1623.90" y="790.10" width="10.80" height="15.90" fill="#000"/>
<text y="805.10" font-size="34"><tspan x="1134.60" textLength="132.02" lengthAdjust="spacingAndGlyphs">Valladares</tspan> <tspan x="1273.67" textLength="24.19" lengthAdjust="spacingAndGlyphs">et</tspan> <tspan x="1303.53" textLength="23.21" lengthAdjust="spacingAndGlyphs">al</tspan> <tspan x="1333.65" textLength="64.40" lengthAdjust="spacingAndGlyphs">2018</tspan></text>
<text transform="translate(1796.17 805.10) scale(0.8113 1)" font-size="34">0.86 [0.69, 0.94]</text>
<rect x="1593.00" y="824.50" width="85.80" height="4.20" fill="#7e7e7e"/>
<rect x="1590.70" y="815.85" width="4.60" height="21.50" fill="#a0a0a0"/>
<rect x="1676.50" y="815.85" width="4.60" height="21.50" fill="#a0a0a0"/>
<rect x="1645.90" y="819.40" width="12.20" height="13.70" fill="#000"/>
<text y="835.50" font-size="34"><tspan x="1134.60" textLength="40.84" lengthAdjust="spacingAndGlyphs">Wu</tspan> <tspan x="1181.67" textLength="24.19" lengthAdjust="spacingAndGlyphs">et</tspan> <tspan x="1211.53" textLength="23.21" lengthAdjust="spacingAndGlyphs">al</tspan> <tspan x="1241.65" textLength="64.40" lengthAdjust="spacingAndGlyphs">2023</tspan></text>
<text transform="translate(1796.17 835.50) scale(0.8113 1)" font-size="34">0.90 [0.78, 0.96]</text>
<rect x="1583.40" y="855.20" width="58.00" height="2.60" fill="#1c1c1c"/>
<rect x="1581.90" y="845.75" width="3.00" height="21.50" fill="#555"/>
<rect x="1639.10" y="845.75" width="4.60" height="21.50" fill="#a0a0a0"/>
<rect x="1609.20" y="850.20" width="14.30" height="12.20" fill="#000"/>
<text y="865.50" font-size="34"><tspan x="1134.62" textLength="33.37" lengthAdjust="spacingAndGlyphs">Xu</tspan> <tspan x="1174.27" textLength="24.19" lengthAdjust="spacingAndGlyphs">et</tspan> <tspan x="1204.13" textLength="23.21" lengthAdjust="spacingAndGlyphs">al</tspan> <tspan x="1234.25" textLength="64.40" lengthAdjust="spacingAndGlyphs">2024</tspan></text>
<text transform="translate(1796.17 865.50) scale(0.8113 1)" font-size="34">0.83 [0.76, 0.88]</text>
<rect x="1573.80" y="884.40" width="96.00" height="3.20" fill="#454545"/>
<rect x="1571.50" y="875.25" width="4.60" height="21.50" fill="#a0a0a0"/>
<rect x="1668.30" y="875.25" width="3.00" height="21.50" fill="#555"/>
<rect x="1632.30" y="879.40" width="11.20" height="13.30" fill="#000"/>
<text y="895.60" font-size="34"><tspan x="1134.63" textLength="47.55" lengthAdjust="spacingAndGlyphs">Xue</tspan> <tspan x="1189.07" textLength="24.19" lengthAdjust="spacingAndGlyphs">et</tspan> <tspan x="1218.93" textLength="23.21" lengthAdjust="spacingAndGlyphs">al</tspan> <tspan x="1249.05" textLength="64.40" lengthAdjust="spacingAndGlyphs">2023</tspan></text>
<text transform="translate(1796.17 895.60) scale(0.8113 1)" font-size="34">0.88 [0.74, 0.95]</text>
<rect x="1549.00" y="914.00" width="89.20" height="4.20" fill="#7e7e7e"/>
<rect x="1546.70" y="905.35" width="4.60" height="21.50" fill="#a0a0a0"/>
<rect x="1635.90" y="905.35" width="4.60" height="21.50" fill="#a0a0a0"/>
<rect x="1596.50" y="908.60" width="10.30" height="13.90" fill="#000"/>
<text y="925.90" font-size="34"><tspan x="1134.62" textLength="46.80" lengthAdjust="spacingAndGlyphs">Yan</tspan> <tspan x="1187.77" textLength="24.19" lengthAdjust="spacingAndGlyphs">et</tspan> <tspan x="1217.63" textLength="23.21" lengthAdjust="spacingAndGlyphs">al</tspan> <tspan x="1247.75" textLength="64.40" lengthAdjust="spacingAndGlyphs">2021</tspan></text>
<text transform="translate(1796.17 925.90) scale(0.8113 1)" font-size="34">0.80 [0.68, 0.88]</text>
<rect x="1590.60" y="944.80" width="101.80" height="2.60" fill="#1c1c1c"/>
<rect x="1589.10" y="935.35" width="3.00" height="21.50" fill="#555"/>
<rect x="1690.10" y="935.35" width="4.60" height="21.50" fill="#a0a0a0"/>
<rect x="1666.90" y="938.90" width="13.50" height="13.20" fill="#000"/>
<text y="952.90" font-size="34"><tspan x="1134.62" textLength="106.14" lengthAdjust="spacingAndGlyphs">Zygouris</tspan> <tspan x="1247.87" textLength="24.19" lengthAdjust="spacingAndGlyphs">et</tspan> <tspan x="1277.73" textLength="23.21" lengthAdjust="spacingAndGlyphs">al</tspan> <tspan x="1307.85" textLength="64.40" lengthAdjust="spacingAndGlyphs">2015</tspan></text>
<text transform="translate(1796.17 952.90) scale(0.8113 1)" font-size="34">0.95 [0.77, 0.99]</text>
<rect x="1433.90" y="974.20" width="247.80" height="4.20" fill="#7e7e7e"/>
<rect x="1431.60" y="965.55" width="4.60" height="21.50" fill="#a0a0a0"/>
<rect x="1680.20" y="965.55" width="3.00" height="21.50" fill="#555"/>
<rect x="1611.30" y="969.20" width="14.20" height="13.50" fill="#000"/>
<text y="983.60" font-size="34"><tspan x="1134.62" textLength="106.14" lengthAdjust="spacingAndGlyphs">Zygouris</tspan> <tspan x="1247.87" textLength="24.19" lengthAdjust="spacingAndGlyphs">et</tspan> <tspan x="1277.73" textLength="23.21" lengthAdjust="spacingAndGlyphs">al</tspan> <tspan x="1307.85" textLength="64.40" lengthAdjust="spacingAndGlyphs">2017</tspan></text>
<text transform="translate(1796.17 983.60) scale(0.8113 1)" font-size="34">0.83 [0.44, 0.97]</text>
<rect x="1604.70" y="1003.50" width="76.20" height="4.60" fill="#9a9a9a"/>
<rect x="1602.40" y="995.05" width="4.60" height="21.50" fill="#a0a0a0"/>
<rect x="1678.60" y="995.05" width="4.60" height="21.50" fill="#a0a0a0"/>
<rect x="1651.10" y="998.60" width="13.10" height="14.10" fill="#000"/>
<text y="1013.50" font-size="34"><tspan x="1134.62" textLength="106.14" lengthAdjust="spacingAndGlyphs">Zygouris</tspan> <tspan x="1247.87" textLength="24.19" lengthAdjust="spacingAndGlyphs">et</tspan> <tspan x="1277.73" textLength="23.21" lengthAdjust="spacingAndGlyphs">al</tspan> <tspan x="1307.85" textLength="64.40" lengthAdjust="spacingAndGlyphs">2020</tspan></text>
<text transform="translate(1796.17 1013.50) scale(0.8113 1)" font-size="34">0.92 [0.80, 0.97]</text>
<rect x="1434.20" y="1053.90" width="262.90" height="2.80" fill="#222"/>
<rect x="1434.20" y="1053.90" width="2.40" height="21.50" fill="#333"/>
<rect x="1499.30" y="1053.90" width="2.40" height="21.50" fill="#333"/>
<rect x="1564.10" y="1053.90" width="2.40" height="21.50" fill="#333"/>
<rect x="1630.20" y="1053.90" width="2.40" height="21.50" fill="#333"/>
<rect x="1694.30" y="1053.90" width="2.40" height="21.50" fill="#333"/>
<text transform="translate(1408.46 1124.00) scale(0.8166 1)" font-size="34">0.44</text>
<text transform="translate(1538.33 1124.00) scale(0.8428 1)" font-size="34">0.72</text>
<text transform="translate(1668.70 1124.00) scale(0.8250 1)" font-size="34">1.00</text>
<text transform="translate(1371.95 42.60) scale(0.7747 1)" font-size="43" font-weight="bold">Forest plot of specificity</text>
<text transform="translate(1499.83 1203.70) scale(0.7743 1)" font-size="36.5" fill="#2a2a2a">Specificity</text>
</g>
</svg>
</body>
</html>
